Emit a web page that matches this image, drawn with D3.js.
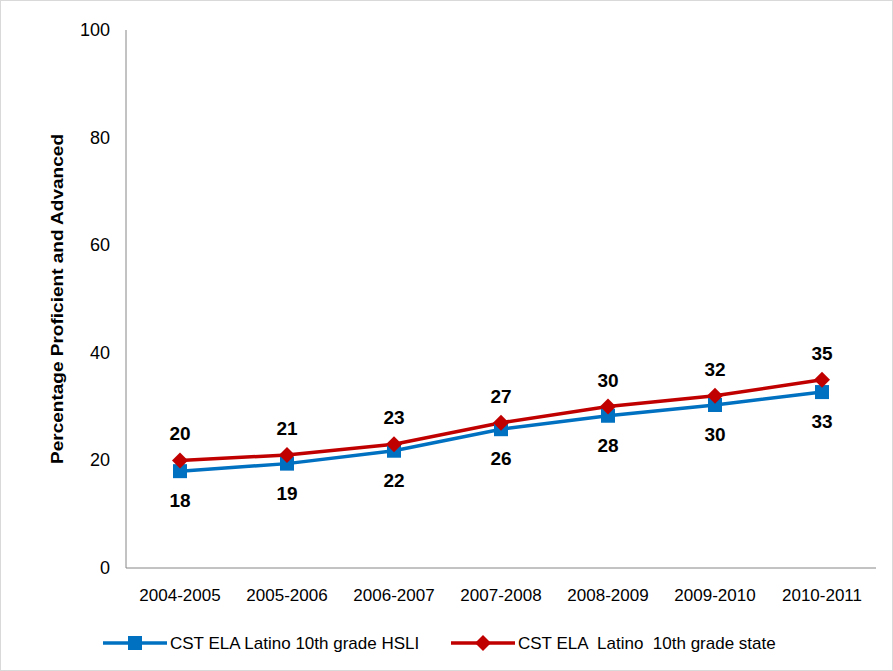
<!DOCTYPE html>
<html>
<head>
<meta charset="UTF-8">
<script src="https://d3js.org/d3.v7.min.js"></script>
<style>
  body { margin: 0; background: #fff; font-family: "Liberation Sans", Arial, sans-serif; }
</style>
</head>
<body>
<script>
const years = ["2004-2005", "2005-2006", "2006-2007", "2007-2008", "2008-2009", "2009-2010", "2010-2011"];
const hsli = [18, 19.4, 21.8, 25.8, 28.3, 30.3, 32.7];
const hsliLabels = ["18", "19", "22", "26", "28", "30", "33"];
const state = [20, 21, 23, 27, 30, 32, 35];
const stateLabels = ["20", "21", "23", "27", "30", "32", "35"];
const yTicks = [0, 20, 40, 60, 80, 100];

const W = 893, H = 671;
const svg = d3.select("body").append("svg").attr("width", W).attr("height", H);
svg.append("rect").attr("x", 0.5).attr("y", 0.5).attr("width", W - 1).attr("height", H - 1)
  .attr("fill", "none").attr("stroke", "#d9d9d9");

const x = d3.scalePoint().domain(years).range([180, 822]);
const y = d3.scaleLinear().domain([0, 100]).range([568, 30]);

// axes
svg.append("line").attr("x1", 126).attr("x2", 126).attr("y1", 30).attr("y2", 568).attr("stroke", "#868686");
svg.append("line").attr("x1", 126).attr("x2", 876).attr("y1", 568).attr("y2", 568).attr("stroke", "#868686");
svg.selectAll(".yt").data(yTicks).enter().append("text")
  .attr("x", 110).attr("y", d => y(d) + 6).attr("text-anchor", "end")
  .attr("font-size", 18).attr("fill", "#000").text(d => d);
svg.selectAll(".xt").data(years).enter().append("text")
  .attr("x", d => x(d)).attr("y", 601).attr("text-anchor", "middle")
  .attr("font-size", 17).attr("fill", "#000").text(d => d);
svg.append("text").attr("transform", "translate(63,299) rotate(-90)")
  .attr("text-anchor", "middle").attr("font-size", 17).attr("font-weight", "bold")
  .attr("textLength", 330).attr("lengthAdjust", "spacingAndGlyphs")
  .text("Percentage Proficient and Advanced");

const line = d3.line().x((d, i) => x(years[i])).y(d => y(d));
const blue = "#0070c0", red = "#c00000";
svg.append("path").datum(hsli).attr("d", line).attr("fill", "none").attr("stroke", blue).attr("stroke-width", 3.5);
svg.append("path").datum(state).attr("d", line).attr("fill", "none").attr("stroke", red).attr("stroke-width", 3.5);

svg.selectAll(".sq").data(hsli).enter().append("rect")
  .attr("x", (d, i) => x(years[i]) - 7).attr("y", d => y(d) - 7)
  .attr("width", 14).attr("height", 14).attr("fill", blue);
const diamond = "M0,-8L8,0L0,8L-8,0Z";
svg.selectAll(".dm").data(state).enter().append("path")
  .attr("d", diamond).attr("transform", (d, i) => `translate(${x(years[i])},${y(d)})`).attr("fill", red);

svg.selectAll(".lb").data(hsli).enter().append("text")
  .attr("x", (d, i) => x(years[i])).attr("y", d => y(d) + 36).attr("text-anchor", "middle")
  .attr("font-size", 19).attr("font-weight", "bold").text((d, i) => hsliLabels[i]);
svg.selectAll(".ls").data(state).enter().append("text")
  .attr("x", (d, i) => x(years[i])).attr("y", d => y(d) - 20).attr("text-anchor", "middle")
  .attr("font-size", 19).attr("font-weight", "bold").text((d, i) => stateLabels[i]);

// legend
const lg = svg.append("g").attr("transform", "translate(0,643)");
lg.append("line").attr("x1", 103).attr("x2", 167).attr("stroke", blue).attr("stroke-width", 3.5);
lg.append("rect").attr("x", 128).attr("y", -7).attr("width", 14).attr("height", 14).attr("fill", blue);
lg.append("text").attr("x", 170).attr("y", 6).attr("font-size", 17).text("CST ELA Latino 10th grade HSLI");
lg.append("line").attr("x1", 451).attr("x2", 515).attr("stroke", red).attr("stroke-width", 3.5);
lg.append("path").attr("d", diamond).attr("transform", "translate(483,0)").attr("fill", red);
lg.append("text").attr("x", 518).attr("y", 6).attr("font-size", 17)
  .style("white-space", "pre").text("CST ELA  Latino  10th grade state");
</script>
</body>
</html>
